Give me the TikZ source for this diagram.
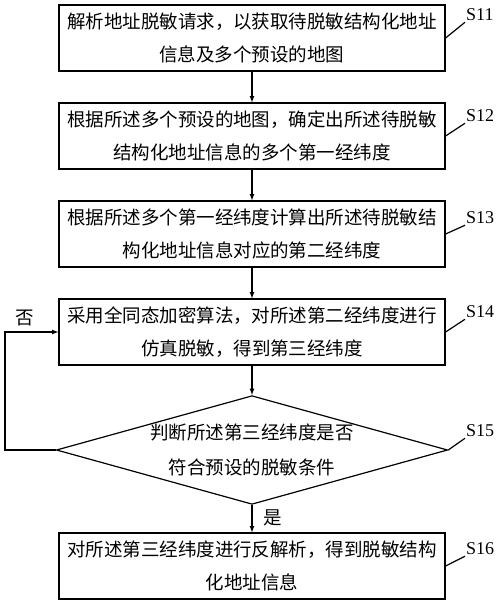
\documentclass[tikz,border=0pt]{standalone}
\usepackage{fontspec}
\usepackage{tikz}
\setmainfont{Liberation Serif}
\newfontfamily\cjk{Noto Sans CJK SC}
\usetikzlibrary{arrows,shapes.geometric}
\tikzstyle{stepbox}=[rectangle, draw=black, line width=1.2pt, minimum width=386pt, minimum height=66pt, align=center, font=\cjk\fontsize{18.5}{33}\selectfont]
\tikzstyle{decision}=[diamond, draw=black, line width=1.2pt, aspect=3.6, inner sep=0pt, minimum width=383pt, minimum height=106pt, align=center, font=\cjk\fontsize{18.5}{35}\selectfont]
\tikzstyle{steplabel}=[inner sep=1pt, anchor=west, font=\fontsize{18}{20}\selectfont]
\tikzstyle{flow}=[draw=black, line width=1.2pt, -latex]

\begin{document}
\begin{tikzpicture}[x=1pt, y=-1pt]
			\useasboundingbox (0,0) rectangle (500,606);
			\node[stepbox] (s11) at (252,38) {解析地址脱敏请求，以获取待脱敏结构化地址\\信息及多个预设的地图};
			\node[stepbox] (s12) at (252,136) {根据所述多个预设的地图，确定出所述待脱敏\\结构化地址信息的多个第一经纬度};
			\node[stepbox] (s13) at (252,234) {根据所述多个第一经纬度计算出所述待脱敏结\\构化地址信息对应的第二经纬度};
			\node[stepbox] (s14) at (252,332) {采用全同态加密算法，对所述第二经纬度进行\\仿真脱敏，得到第三经纬度};
			\node[decision] (s15) at (252,450) {判断所述第三经纬度是否\\符合预设的脱敏条件};
			\node[stepbox] (s16) at (252,566) {对所述第三经纬度进行反解析，得到脱敏结构\\化地址信息};
			\node[steplabel] (l11) at (465,15) {S11};
			\node[steplabel] (l12) at (465,116) {S12};
			\node[steplabel] (l13) at (465,218) {S13};
			\node[steplabel] (l14) at (465,312) {S14};
			\node[steplabel] (l15) at (465,431) {S15};
			\node[steplabel] (l16) at (465,549) {S16};
			\node[font=\cjk\fontsize{18.5}{20}\selectfont] (no) at (25,318) {否};
			\node[font=\cjk\fontsize{18.5}{20}\selectfont] (yes) at (273,518) {是};
			\coordinate (back) at (5,450);
			\path[flow] (s11)--(s12);
			\path[flow] (s12)--(s13);
			\path[flow] (s13)--(s14);
			\path[flow] (s14)--(s15);
			\path[flow] (s15)--(s16);
			\path[flow] (s15.west)--(back)|-(s14.west);
			\path[draw=black, line width=1.2pt]
				(s11.east)--(l11.south west)
				(s12.east)--(l12.south west)
				(s13.east)--(l13.south west)
				(s14.east)--(l14.south west)
				(s15.east)--(l15.south west)
				(s16.east)--(l16.south west);
		\end{tikzpicture}
\end{document}
